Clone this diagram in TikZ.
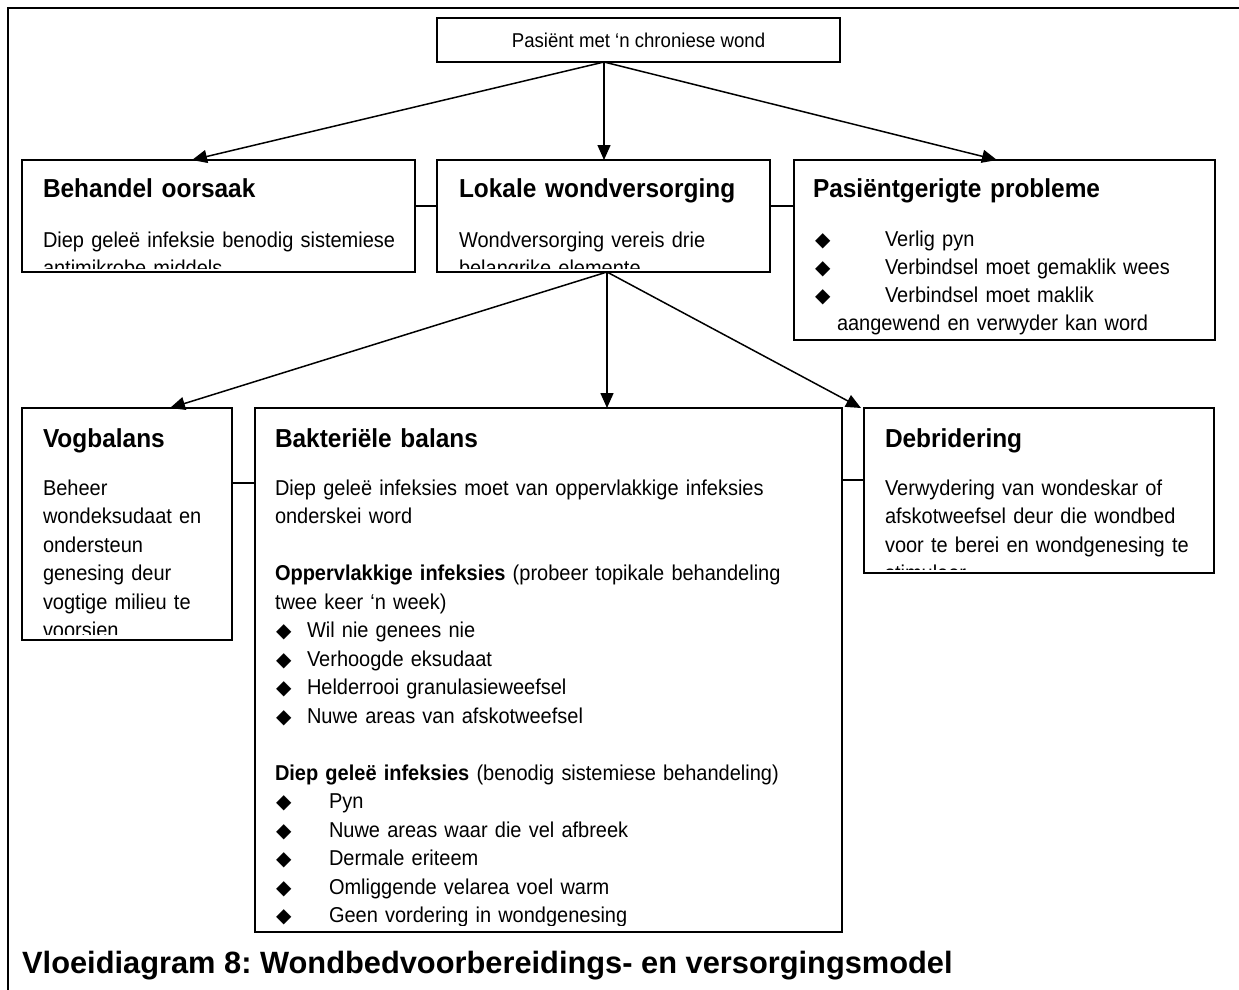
\documentclass[tikz,border=0pt]{standalone}
\usepackage{fontspec}
\setmainfont{Liberation Sans}
\newfontfamily\narrowbody[FakeStretch=0.93]{Liberation Sans}
\newfontfamily\narrowhead[FakeStretch=0.94]{Liberation Sans}
\newfontfamily\dejavu{DejaVu Sans}
\usetikzlibrary{arrows.meta}
\frenchspacing
\newcommand{\bul}{{\dejavu\fontsize{20}{20}\selectfont ◆}}
\newcommand{\bodyf}{\narrowbody\fontsize{21.5}{28.5}\selectfont}
\newcommand{\headf}{\narrowhead\bfseries\fontsize{26}{28}\selectfont}
\newcommand{\titlef}{\bfseries\fontsize{30.8}{34}\selectfont}
\newcommand{\topf}{\narrowbody\fontsize{20}{22}\selectfont}
\begin{document}
\begin{tikzpicture}[x=1pt,y=-1pt,
  box/.style={draw, line width=1.7pt, anchor=north west, inner sep=0pt, outer sep=0pt},
  con/.style={line width=1.5pt},
  arr/.style={line width=1.5pt, -{Triangle[length=15pt,width=13pt]}},
  frame/.style={line width=1.8pt},
  txt/.style={anchor=base west, inner sep=0pt, outer sep=0pt, align=left, text width=600pt},
  head/.style={txt, font=\headf},
  body/.style={txt, font=\bodyf},
]
\useasboundingbox (0,0) rectangle (1239,989);
% outer frame
\draw[frame] (8,990) -- (8,8) -- (1240,8);

% boxes
\node[box, minimum width=403pt, minimum height=44pt] (top) at (437,18) {};
\node[box, minimum width=393pt, minimum height=112pt] (beh) at (22,160) {};
\node[box, minimum width=333pt, minimum height=112pt] (lok) at (437,160) {};
\node[box, minimum width=421pt, minimum height=180pt] (pas) at (794,160) {};
\node[box, minimum width=210pt, minimum height=232pt] (vog) at (22,408) {};
\node[box, minimum width=587pt, minimum height=524pt] (bak) at (255,408) {};
\node[box, minimum width=350pt, minimum height=165pt] (deb) at (864,408) {};

% top text
\node[inner sep=0pt, font=\topf] (topT) at (top.center) {Pasiënt met ‘n chroniese wond};

% headings
\node[head] (behH) at (43,197) {Behandel oorsaak};
\node[head] (lokH) at (459,197) {Lokale wondversorging};
\node[head] (pasH) at (813,197) {Pasiëntgerigte probleme};
\node[head] (vogH) at (43,447) {Vogbalans};
\node[head] (bakH) at (275,447) {Bakteriële balans};
\node[head] (debH) at (885,447) {Debridering};

% clipped body texts
\begin{scope}
\clip (24,162) rectangle (413,268);
\node[body] (behB) at (43,247) {Diep geleë infeksie benodig sistemiese\\antimikrobe middels};
\end{scope}
\begin{scope}
\clip (439,162) rectangle (768,268);
\node[body] (lokB) at (459,247) {Wondversorging vereis drie\\belangrike elemente};
\end{scope}
\begin{scope}
\clip (796,162) rectangle (1213,337);
\node[body, font=\narrowbody\fontsize{21.5}{28}\selectfont] (pasB) at (815,246) {\makebox[70pt][l]{\bul}Verlig pyn\\
\makebox[70pt][l]{\bul}Verbindsel moet gemaklik wees\\
\makebox[70pt][l]{\bul}Verbindsel moet maklik\\
\hspace*{22pt}aangewend en verwyder kan word};
\end{scope}
\begin{scope}
\clip (24,410) rectangle (230,634);
\node[body] (vogB) at (43,495) {Beheer\\wondeksudaat en\\ondersteun\\genesing deur\\vogtige milieu te\\voorsien};
\end{scope}
\begin{scope}
\clip (257,410) rectangle (840,925);
\node[body] (bakB) at (275,495) {Diep geleë infeksies moet van oppervlakkige infeksies\\
onderskei word\\[28.5pt]
\textbf{Oppervlakkige infeksies} (probeer topikale behandeling\\
twee keer ‘n week)\\
\hspace*{1pt}\makebox[31pt][l]{\bul}Wil nie genees nie\\
\hspace*{1pt}\makebox[31pt][l]{\bul}Verhoogde eksudaat\\
\hspace*{1pt}\makebox[31pt][l]{\bul}Helderrooi granulasieweefsel\\
\hspace*{1pt}\makebox[31pt][l]{\bul}Nuwe areas van afskotweefsel\\[28.5pt]
\textbf{Diep geleë infeksies} (benodig sistemiese behandeling)\\
\hspace*{1pt}\makebox[53pt][l]{\bul}Pyn\\
\hspace*{1pt}\makebox[53pt][l]{\bul}Nuwe areas waar die vel afbreek\\
\hspace*{1pt}\makebox[53pt][l]{\bul}Dermale eriteem\\
\hspace*{1pt}\makebox[53pt][l]{\bul}Omliggende velarea voel warm\\
\hspace*{1pt}\makebox[53pt][l]{\bul}Geen vordering in wondgenesing};
\end{scope}
\begin{scope}
\clip (866,410) rectangle (1212,569);
\node[body] (debB) at (885,495) {Verwydering van wondeskar of\\afskotweefsel deur die wondbed\\voor te berei en wondgenesing te\\stimuleer};
\end{scope}

% connector anchors
\coordinate (topout) at (604,62);
\coordinate (behin) at (192,160);
\coordinate (pasin) at (997,160);
\coordinate (lokout) at (607,272);
\coordinate (vogin) at (170,408);
\coordinate (debin) at (861,408);
\coordinate (r1) at (0,206);
\coordinate (r2) at (0,483);
\coordinate (r3) at (0,480);

% arrows
\draw[arr] (topout) -- (behin);
\draw[arr] (topout) -- (lok.north -| topout);
\draw[arr] (topout) -- (pasin);
\draw[arr] (lokout) -- (vogin);
\draw[arr] (lokout) -- (bak.north -| lokout);
\draw[arr] (lokout) -- (debin);

% plain connectors
\draw[con] (beh.east |- r1) -- (lok.west |- r1);
\draw[con] (lok.east |- r1) -- (pas.west |- r1);
\draw[con] (vog.east |- r2) -- (bak.west |- r2);
\draw[con] (bak.east |- r3) -- (deb.west |- r3);

% title
\node[anchor=base west, inner sep=0pt, font=\titlef] (title) at (22,973) {Vloeidiagram 8: Wondbedvoorbereidings- en versorgingsmodel};
\end{tikzpicture}
\end{document}
